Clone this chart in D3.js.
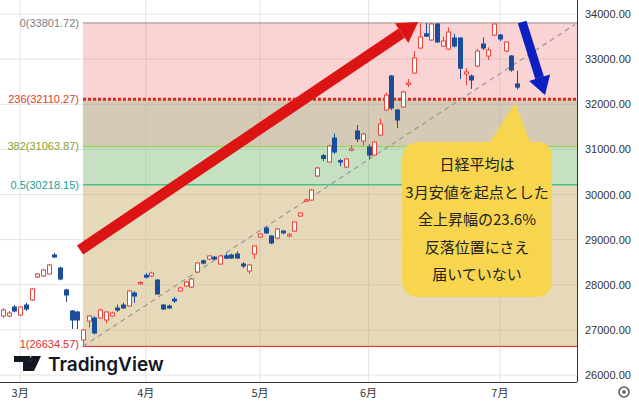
<!DOCTYPE html>
<html><head><meta charset="utf-8">
<script src="https://cdn.jsdelivr.net/npm/d3@7"></script>
<style>body{margin:0;background:#fff}svg{display:block}</style>
</head><body>
<svg id="c" width="639" height="412"></svg>
<script>
// candles: [open, high, low, close], one per trading day from late Feb
const candles = [
[27307,27485,27263,27440],[27307,27420,27280,27374],[27507,27550,27390,27418],[27330,27530,27300,27507],
[27551,27600,27420,27463],[27662,27930,27640,27906],[28172,28260,28150,28238],[28194,28350,28170,28327],
[28238,28460,28220,28438],[28659,28704,28593,28615],[28371,28400,28100,28127],[27884,27910,27618,27773],
[27418,27440,27020,27219],[27396,27420,27020,27219],[26776,27020,26635,26998],[27197,27330,27050,27307],
[27263,27300,26900,26931],[27263,27470,27240,27440],[27219,27410,27150,27396],[27307,27400,27290,27374],
[27485,27560,27400,27440],[27551,27600,27470,27485],[27529,27880,27510,27862],[27817,27860,27600,27751],
[28020,28080,28000,28050],[28210,28260,28140,28170],[28194,28290,28170,28260],[28105,28120,27780,27795],
[27551,27570,27440,27463],[27530,27560,27460,27485],[27680,27730,27600,27640],[27862,27950,27840,27928],
[27972,28080,27950,28061],[27950,28150,27930,28127],[28283,28500,28260,28482],[28530,28560,28450,28480],
[28570,28660,28550,28637],[28610,28640,28550,28570],[28460,28660,28440,28637],[28640,28700,28570,28590],
[28659,28690,28570,28593],[28681,28740,28570,28593],[28460,28500,28370,28416],[28305,28460,28240,28438],
[28681,28880,28570,28859],[29058,29140,29040,29124],[29257,29290,29130,29147],[29080,29100,28900,28925],
[29036,29260,29010,29235],[29190,29210,29120,29150],[29080,29150,29050,29110],[29191,29410,29170,29391],
[29523,29610,29500,29590],[29850,29910,29830,29880],[29878,30120,29860,30100],[30410,30610,30390,30587],
[30860,30900,30740,30800],[30720,31100,30700,31075],[31252,31350,30900,30942],[30750,30790,30630,30720],
[30609,30810,30590,30787],[30980,31090,30960,31010],[31407,31540,31160,31230],[31185,31370,31080,31340],
[31052,31110,30780,30875],[30875,31190,30860,31163],[31318,31680,31300,31562],[31872,32260,31850,32205],
[32626,32650,31870,31917],[31872,31900,31470,31651],[31939,32300,31920,32271],[32440,32560,32380,32470],
[32692,33180,32670,33025],[33246,33790,33220,33490],[33560,33800,33490,33510],[33424,33800,33400,33778],
[33778,33800,33360,33380],[33290,33500,33270,33402],[33224,33700,33200,33600],[33468,33560,33260,33290],
[33468,33490,32560,32800],[32670,32800,32420,32715],[32626,32660,32340,32537],[32847,33230,32820,33180],
[33335,33480,33200,33246],[33069,33260,32980,33202],[33534,33800,33510,33778],[33534,33560,33400,33446],
[33180,33400,33150,33380],[33069,33090,32720,32759],[32450,32740,32330,32380]
];
const monthTicks = [3, 25, 45, 64, 87];
const monthLabels = ["3月", "4月", "5月", "6月", "7月"];
const priceTicks = [26000, 27000, 28000, 29000, 30000, 31000, 32000, 33000, 34000];
const fibLevels = [
  {label: "0(33801.72)", v: 33801.72},
  {label: "236(32110.27)", v: 32110.27},
  {label: "382(31063.87)", v: 31063.87},
  {label: "0.5(30218.15)", v: 30218.15},
  {label: "1(26634.57)", v: 26634.57}
];
const fibStart = 14;
const trendLine = [[14, 26634.57], [100.2, 33770]];
const upArrow = [[13.5, 28770], [72.7, 33823]];
const downArrow = [[90.9, 33823], [94.9, 32205]];
const callout = ["日経平均は", "3月安値を起点とした", "全上昇幅の23.6%", "反落位置にさえ", "届いていない"];

const svg = d3.select("#c");
const W = 577, plotBottom = 382;
const x = d3.scaleLinear().domain([0, 90]).range([3, 517]);
const y = d3.scaleLinear().domain([26000, 34000]).range([375, 14]);

// grid
svg.append("g").selectAll("line").data(priceTicks).join("line")
  .attr("x1", 0).attr("x2", W).attr("y1", d => y(d)).attr("y2", d => y(d))
  .attr("stroke", "#e4e4e4");
svg.append("g").selectAll("line").data(monthTicks).join("line")
  .attr("x1", d => x(d)).attr("x2", d => x(d)).attr("y1", 0).attr("y2", plotBottom)
  .attr("stroke", "#e4e4e4");

// fib bands
const bandFills = ["rgba(240,120,120,0.32)", "rgba(170,150,110,0.5)", "rgba(120,180,110,0.42)", "rgba(200,170,100,0.45)"];
const x0 = x(fibStart), x1 = W;
for (let i = 0; i < 4; i++) {
  svg.append("rect").attr("x", x0).attr("width", x1 - x0)
    .attr("y", y(fibLevels[i].v)).attr("height", y(fibLevels[i + 1].v) - y(fibLevels[i].v))
    .attr("fill", bandFills[i]);
}
const lineCols = ["#9a8a8a", "#e0221e", "#9ed36a", "#46c28a", "#e0221e"];
const textCols = ["#808080", "#e0401e", "#8aa030", "#20a090", "#e0301e"];
fibLevels.forEach((f, i) => {
  const l = svg.append("line").attr("x1", x0).attr("x2", x1)
    .attr("y1", y(f.v)).attr("y2", y(f.v)).attr("stroke", lineCols[i]);
  if (i == 1) l.attr("stroke-width", 3).attr("stroke-dasharray", "3,2");
  else l.attr("stroke-width", i == 2 || i == 3 ? 1.5 : 1);
  svg.append("text").attr("x", x0 - 4).attr("y", y(f.v) + (i == 4 ? 2 : 4))
    .attr("text-anchor", "end").attr("font-family", "Liberation Sans, Arial").attr("font-size", 11)
    .attr("fill", textCols[i]).text(f.label);
});

// trend dashed line
svg.append("line").attr("x1", x(trendLine[0][0])).attr("y1", y(trendLine[0][1]))
  .attr("x2", x(trendLine[1][0])).attr("y2", y(trendLine[1][1]))
  .attr("stroke", "#999").attr("stroke-width", 1.2).attr("stroke-dasharray", "5,4");

// candles
const cw = 4;
const g = svg.append("g");
candles.forEach((c, i) => {
  const [o, h, l, cl] = c, up = cl >= o, col = up ? "#e8453c" : "#1a4e9c";
  const cx = Math.round(x(i)) + 0.5;
  g.append("line").attr("x1", cx).attr("x2", cx).attr("y1", y(h)).attr("y2", y(l)).attr("stroke", col);
  const top = y(Math.max(o, cl)), hgt = Math.max(1, y(Math.min(o, cl)) - top);
  g.append("rect").attr("x", cx - cw / 2).attr("y", top).attr("width", cw).attr("height", hgt)
    .attr("fill", up ? "#fff" : col).attr("stroke", col).attr("stroke-width", 1);
});

// arrows
function arrow(p, col, w, hw, hl) {
  const ax = x(p[0][0]), ay = y(p[0][1]), bx = x(p[1][0]), by = y(p[1][1]);
  const a = Math.atan2(by - ay, bx - ax), ca = Math.cos(a), sa = Math.sin(a);
  const ex = bx - ca * hl, ey = by - sa * hl;
  svg.append("line").attr("x1", ax).attr("y1", ay).attr("x2", ex).attr("y2", ey)
    .attr("stroke", col).attr("stroke-width", w);
  svg.append("path").attr("d", `M${bx},${by}L${ex - sa * hw},${ey + ca * hw}L${ex + sa * hw},${ey - ca * hw}Z`)
    .attr("fill", col);
}
arrow(upArrow, "#dd1414", 11, 12, 20);
arrow(downArrow, "#0c1fc0", 9, 11, 18);

// callout
svg.append("path")
  .attr("d", "M420,142 L490,142 L515,103 L530,142 L538,142 Q552,142 552,160 L552,280 Q552,297 535,297 L420,297 Q402,297 402,280 L402,160 Q402,142 420,142 Z")
  .attr("fill", "#f8d54e");
svg.append("g").selectAll("text").data(callout).join("text")
  .attr("x", 477).attr("y", (d, i) => 170 + i * 27.5).attr("text-anchor", "middle")
  .attr("font-family", "Noto Sans CJK JP").attr("font-size", 15).attr("fill", "#222").text(d => d);

// right axis
svg.append("line").attr("x1", W + 0.5).attr("x2", W + 0.5).attr("y1", 0).attr("y2", plotBottom).attr("stroke", "#333");
svg.append("g").selectAll("text").data(priceTicks).join("text")
  .attr("x", 585).attr("y", d => y(d) + 4).attr("font-family", "Liberation Sans, Arial")
  .attr("font-size", 11).attr("fill", "#333").text(d => d3.format(".2f")(d));

// bottom axis
svg.append("line").attr("x1", 0).attr("x2", W).attr("y1", plotBottom + 0.5).attr("y2", plotBottom + 0.5).attr("stroke", "#333");
svg.append("g").selectAll("text").data(monthTicks).join("text")
  .attr("x", d => x(d)).attr("y", 397).attr("text-anchor", "middle")
  .attr("font-family", "Noto Sans CJK JP").attr("font-size", 11).attr("fill", "#333")
  .text((d, i) => monthLabels[i]);

// gear
svg.append("circle").attr("cx", 624).attr("cy", 392).attr("r", 5).attr("fill", "none").attr("stroke", "#555").attr("stroke-width", 1.5);
svg.append("circle").attr("cx", 624).attr("cy", 392).attr("r", 1.8).attr("fill", "#555");

// logo
svg.append("path").attr("d", "M14,356 h16 v15 h-7 v-9 h-9 z M32,356 h9 l-7,15 h-7 z").attr("fill", "#131722");
svg.append("circle").attr("cx", 33).attr("cy", 359).attr("r", 3).attr("fill", "#131722");
svg.append("text").attr("x", 48).attr("y", 371).attr("font-family", "Inter, Liberation Sans")
  .attr("font-weight", 600).attr("font-size", 19).attr("fill", "#131722").text("TradingView");
</script>
</body></html>
